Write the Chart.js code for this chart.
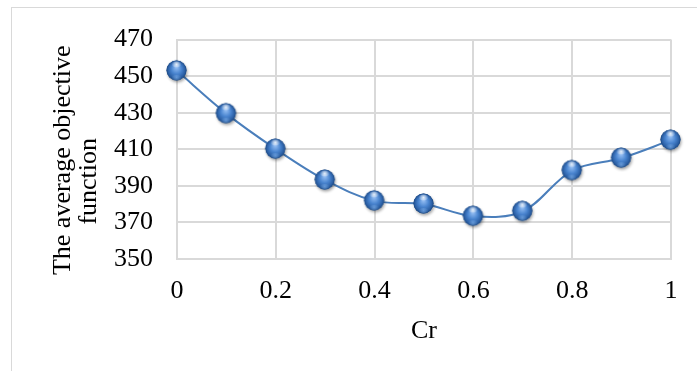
<!DOCTYPE html>
<html>
<head>
<meta charset="utf-8">
<script src="https://cdn.jsdelivr.net/npm/chart.js@4/dist/chart.umd.min.js"></script>
<style>
  html, body { margin: 0; padding: 0; background: #fff; }
  #wrap { position: relative; width: 697px; height: 371px; overflow: hidden; }
  #frame { position: absolute; left: 11px; top: 7px; width: 720px; height: 400px; border: 1px solid #d9d9d9; box-sizing: border-box; }
  #chart { position: absolute; left: 0; top: 0; }
</style>
</head>
<body>
<div id="wrap">
  <div id="frame"></div>
  <canvas id="chart" width="697" height="371"></canvas>
</div>
<script>
// data
const crValues = [0, 0.1, 0.2, 0.3, 0.4, 0.5, 0.6, 0.7, 0.8, 0.9, 1];
const objValues = [452.9, 429.5, 410.1, 393.2, 381.8, 380.1, 373.4, 376.1, 398.4, 405.2, 415.0];
const xTicks = [0, 0.2, 0.4, 0.6, 0.8, 1];
const xTickLabels = ['0', '0.2', '0.4', '0.6', '0.8', '1'];
const yTicks = [350, 370, 390, 410, 430, 450, 470];
const xTitle = 'Cr';
const yTitleLines = ['The average objective', 'function'];

const serif = '"Liberation Serif", "Times New Roman", serif';
const gridColor = '#d9d9d9';

// 3D looking ball used as marker
function makeBall() {
    const c = document.createElement('canvas');
    c.width = 28; c.height = 28;
    const g = c.getContext('2d');
    const cx = 13.5, cy = 13.5, r = 10;
    g.save();
    g.shadowColor = 'rgba(0,0,0,0.35)';
    g.shadowBlur = 3;
    g.shadowOffsetX = 1;
    g.shadowOffsetY = 2;
    g.beginPath();
    g.arc(cx, cy, r, 0, Math.PI * 2);
    g.fillStyle = '#2f5f9e';
    g.fill();
    g.restore();
    let grad = g.createRadialGradient(cx, cy - 3, 1, cx, cy, r);
    grad.addColorStop(0, '#8ab6ee');
    grad.addColorStop(0.45, '#4a85d0');
    grad.addColorStop(0.85, '#2a5ea3');
    grad.addColorStop(1, '#1c477f');
    g.beginPath();
    g.arc(cx, cy, r, 0, Math.PI * 2);
    g.fillStyle = grad;
    g.fill();
    // highlight on top
    grad = g.createRadialGradient(cx, cy - 6, 0, cx, cy - 6, 5);
    grad.addColorStop(0, 'rgba(255,255,255,0.85)');
    grad.addColorStop(1, 'rgba(255,255,255,0)');
    g.beginPath();
    g.ellipse(cx, cy - 6, 5, 3, 0, 0, Math.PI * 2);
    g.fillStyle = grad;
    g.fill();
    // faint reflection at bottom
    grad = g.createRadialGradient(cx, cy + 7, 0, cx, cy + 7, 5);
    grad.addColorStop(0, 'rgba(140,190,245,0.55)');
    grad.addColorStop(1, 'rgba(140,190,245,0)');
    g.beginPath();
    g.ellipse(cx, cy + 7, 5, 2.5, 0, 0, Math.PI * 2);
    g.fillStyle = grad;
    g.fill();
    return c;
}

// y axis title drawn in two lines like the original
const yTitlePlugin = {
    id: 'yTitle',
    afterDraw(chart) {
        const ctx = chart.ctx;
        const area = chart.chartArea;
        ctx.save();
        ctx.font = '26px ' + serif;
        ctx.fillStyle = '#000';
        ctx.textAlign = 'center';
        ctx.textBaseline = 'middle';
        const mid = (area.top + area.bottom) / 2;
        const centers = [[63, mid + 11], [89, mid + 32]];
        yTitleLines.forEach((t, i) => {
            ctx.save();
            ctx.translate(centers[i][0], centers[i][1]);
            ctx.rotate(-Math.PI / 2);
            ctx.fillText(t, 0, 0);
            ctx.restore();
        });
        ctx.restore();
    }
};

new Chart(document.getElementById('chart'), {
    type: 'line',
    data: {
        datasets: [{
            data: crValues.map((x, i) => ({ x: x, y: objValues[i] })),
            borderColor: '#4a7ebb',
            borderWidth: 2,
            tension: 0.35,
            pointStyle: makeBall(),
            pointRadius: 10,
            pointHoverRadius: 10,
            fill: false,
            clip: false
        }]
    },
    options: {
        responsive: false,
        animation: false,
        layout: { padding: { left: 0, top: 37, right: 26, bottom: 0 } },
        plugins: { legend: { display: false }, tooltip: { enabled: false } },
        scales: {
            x: {
                type: 'linear',
                min: 0,
                max: 1,
                afterBuildTicks: s => { s.ticks = xTicks.map(v => ({ value: v })); },
                afterFit: s => { s.height = 112; },
                grid: { color: gridColor, lineWidth: 2, drawTicks: false },
                border: { color: gridColor, width: 2 },
                ticks: {
                    padding: 17,
                    color: '#000',
                    font: { family: serif, size: 26 },
                    callback: v => xTickLabels[xTicks.indexOf(v)]
                },
                title: {
                    display: true,
                    text: xTitle,
                    color: '#000',
                    font: { family: serif, size: 26, lineHeight: 1 },
                    padding: { top: 0, bottom: 27 }
                }
            },
            y: {
                min: 350,
                max: 470,
                afterBuildTicks: s => { s.ticks = yTicks.map(v => ({ value: v })); },
                afterFit: s => { s.width = 177; },
                grid: { color: gridColor, lineWidth: 2, drawTicks: false },
                border: { color: gridColor, width: 2 },
                ticks: {
                    padding: 24,
                    color: '#000',
                    font: { family: serif, size: 26 }
                }
            }
        }
    },
    plugins: [yTitlePlugin]
});
</script>
</body>
</html>
